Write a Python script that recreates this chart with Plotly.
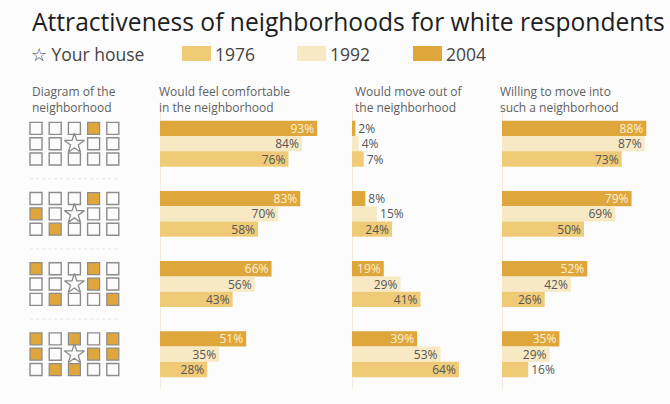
import plotly.graph_objects as go

W, H = 670, 404

# ---- data -------------------------------------------------------------
scenarios = [0, 1, 2, 3]  # neighborhood compositions, top to bottom

comfortable_2004 = [93, 83, 66, 51]
comfortable_1992 = [84, 70, 56, 35]
comfortable_1976 = [76, 58, 43, 28]

move_out_2004 = [2, 8, 19, 39]
move_out_1992 = [4, 15, 29, 53]
move_out_1976 = [7, 24, 41, 64]

move_in_2004 = [88, 79, 52, 35]
move_in_1992 = [87, 69, 42, 29]
move_in_1976 = [73, 50, 26, 16]

# occupied houses (row, col) in each 3x5 neighborhood diagram
occupied_cells = [
    [(0, 3)],
    [(0, 3), (1, 0), (2, 1)],
    [(0, 0), (0, 3), (1, 3), (2, 1), (2, 4)],
    [(0, 0), (0, 2), (0, 4), (1, 0), (1, 3), (1, 4), (2, 1), (2, 2)],
]
home_cell = (1, 2)
grid_rows, grid_cols = 3, 5

years = ["2004", "1992", "1976"]
year_colors = {"2004": "#DEA63B", "1992": "#F7E9C4", "1976": "#EFCB78"}

panel_titles = [
    "Diagram of the<br>neighborhood",
    "Would feel comfortable<br>in the neighborhood",
    "Would move out of<br>the neighborhood",
    "Willing to move into<br>such a neighborhood",
]

# ---- helpers ----------------------------------------------------------
def px(x):
    return x / W


def py(y):
    return 1 - y / H


BARGAP = 0.345
row_step = (1 - BARGAP) / 3  # thickness of one bar in y units
label_color = "#555555"
font_family = "Open Sans"

fig = go.Figure()

panels = [
    ("x", {"2004": comfortable_2004, "1992": comfortable_1992, "1976": comfortable_1976}),
    ("x2", {"2004": move_out_2004, "1992": move_out_1992, "1976": move_out_1976}),
    ("x3", {"2004": move_in_2004, "1992": move_in_1992, "1976": move_in_1976}),
]

for axis, series in panels:
    for yr in years:
        vals = series[yr]
        positions = ["inside" if v >= 18 else "outside" for v in vals]
        fig.add_trace(go.Bar(
            x=vals, y=scenarios, orientation="h",
            xaxis=axis, yaxis="y",
            name=yr, showlegend=False,
            marker=dict(color=year_colors[yr], line=dict(width=0)),
            texttemplate="%{x}%",
            textposition=positions,
            insidetextanchor="end",
            constraintext="none",
            cliponaxis=False,
            textfont=dict(family=font_family, size=12),
            insidetextfont=dict(family=font_family, size=12,
                                color="#FDF1D6" if yr == "2004" else label_color),
            outsidetextfont=dict(family=font_family, size=12, color=label_color),
            hoverinfo="skip",
        ))

# neighborhood diagrams
empty_x, empty_y, full_x, full_y, home_x, home_y = [], [], [], [], [], []
for g, cells in zip(scenarios, occupied_cells):
    for r in range(grid_rows):
        for c in range(grid_cols):
            yy = g + (r - 1) * row_step
            if (r, c) == home_cell:
                home_x.append(c); home_y.append(yy)
            elif (r, c) in cells:
                full_x.append(c); full_y.append(yy)
            else:
                empty_x.append(c); empty_y.append(yy)

fig.add_trace(go.Scatter(
    x=empty_x, y=empty_y, xaxis="x4", yaxis="y", mode="markers",
    marker=dict(symbol="square-open", size=12, color="#8c8c8c", line=dict(width=1.4)),
    showlegend=False, hoverinfo="skip", cliponaxis=False,
))
fig.add_trace(go.Scatter(
    x=full_x, y=full_y, xaxis="x4", yaxis="y", mode="markers",
    marker=dict(symbol="square", size=12, color=year_colors["2004"],
                line=dict(width=1.2, color="#8c8c8c")),
    showlegend=False, hoverinfo="skip", cliponaxis=False,
))
fig.add_trace(go.Scatter(
    x=home_x, y=home_y, xaxis="x4", yaxis="y", mode="markers",
    marker=dict(symbol="star-open", size=15, color="#8c8c8c", line=dict(width=1.3)),
    showlegend=False, hoverinfo="skip", cliponaxis=False,
))

# ---- text: title, key, column headers ---------------------------------
def note(text, x, y, size, color, xanchor="left", yanchor="middle", align="left"):
    return dict(text=text, x=px(x), y=py(y), xref="paper", yref="paper",
                xanchor=xanchor, yanchor=yanchor, align=align, showarrow=False,
                borderpad=0,
                font=dict(family=font_family, size=size, color=color))


annotations = [
    note("Attractiveness of neighborhoods for white respondents", 31, 21, 24.6, "#1e1e1e"),
    note("☆ Your house", 30, 54, 17.5, "#444444"),
]
shapes = []
key_x = {"1976": 182, "1992": 297, "2004": 413}
for yr in ["1976", "1992", "2004"]:
    x0 = key_x[yr]
    shapes.append(dict(type="rect", xref="paper", yref="paper",
                       x0=px(x0), x1=px(x0 + 29), y0=py(61), y1=py(46),
                       fillcolor=year_colors[yr], line=dict(width=0)))
    annotations.append(note(yr, x0 + 32, 54, 17.5, "#444444"))

header_x = [31, 158, 354, 499]
for hx, t in zip(header_x, panel_titles):
    annotations.append(note(t, hx, 82, 12, "#5f5f5f", yanchor="top"))

# faint dotted separators between diagrams
for g in scenarios[:-1]:
    shapes.append(dict(type="line", xref="x4", yref="y",
                       x0=-0.3, x1=grid_cols - 0.7, y0=g + 0.5, y1=g + 0.5,
                       line=dict(color="#e2e2e2", width=1, dash="dot")))

hidden_x = dict(showgrid=False, showticklabels=False, ticks="", showline=False,
                zeroline=True, zerolinecolor="#f3eadb", zerolinewidth=1, anchor="y")

fig.update_layout(
    width=W, height=H,
    margin=dict(l=0, r=0, t=0, b=0),
    paper_bgcolor="#fcfcfc", plot_bgcolor="rgba(0,0,0,0)",
    barmode="group", bargap=BARGAP, bargroupgap=0,
    xaxis=dict(domain=[px(160), px(329)], range=[0, 100], **hidden_x),
    xaxis2=dict(domain=[px(352), px(494)], range=[0, 85], **hidden_x),
    xaxis3=dict(domain=[px(502), px(666)], range=[0, 100], **hidden_x),
    xaxis4=dict(domain=[0, px(150)], range=[-36 / 19.2, (150 - 36) / 19.2],
                visible=False, anchor="y"),
    yaxis=dict(domain=[1 - 389.3 / H, 1 - 108.6 / H], range=[3.5, -0.5], visible=False),
    annotations=annotations,
    shapes=shapes,
    showlegend=False,
)

fig.write_html("out.html")
